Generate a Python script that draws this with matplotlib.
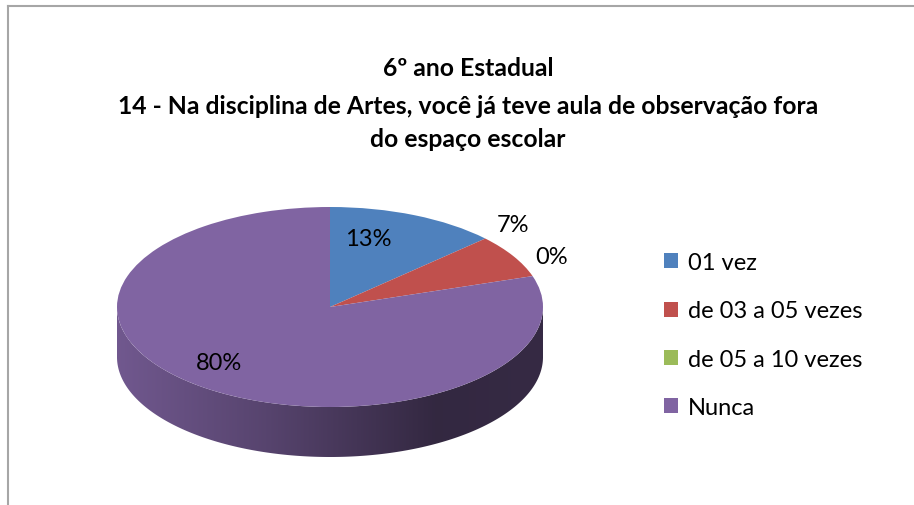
import matplotlib
matplotlib.use('Agg')
import matplotlib.pyplot as plt
import numpy as np
from matplotlib.lines import Line2D
from matplotlib.patches import Polygon
from matplotlib.colors import to_rgb

# data
categories = ['01 vez', 'de 03 a 05 vezes', 'de 05 a 10 vezes', 'Nunca']
percentages = [13, 7, 0, 80]
colors = ['#4F81BD', '#C0504D', '#9BBB59', '#8064A2']
title_lines = ['6º ano Estadual',
               '14 - Na disciplina de Artes, você já teve aula de observação fora',
               'do espaço escolar']

plt.rcParams['font.family'] = ['Lato', 'DejaVu Sans']

W, H = 914, 506
fig = plt.figure(figsize=(W / 100, H / 100), dpi=100)

# chart frame (only top and left edges visible)
fig.add_artist(Line2D([8 / W, 8 / W], [0, 1 - 7 / H], color='#A6A6A6', lw=1.5))
fig.add_artist(Line2D([8 / W, 1], [1 - 7 / H, 1 - 7 / H], color='#A6A6A6', lw=1.5))

# title
for txt, ypx in zip(title_lines, [68, 106, 140]):
    fig.text(468 / W, 1 - ypx / H, txt, ha='center', va='center',
             fontsize=17.8, fontweight='bold', color='black')

# pie axes: unit circle -> ellipse (rx=213px, ry=100px), center at (330, 308)px
cx, cy, rx, ry, depth_px = 330, 308, 213, 100, 50
m = 1.2
depth = depth_px / ry
left = (cx - rx * m) / W
width = 2 * rx * m / W
top_px = cy - ry * m
bot_px = cy + ry * m + depth_px
ax = fig.add_axes([left, 1 - bot_px / H, width, (bot_px - top_px) / H])

wedges, texts, autotexts = ax.pie(percentages, colors=colors, startangle=90,
                                  counterclock=False, radius=1,
                                  autopct='%1.0f%%',
                                  wedgeprops=dict(linewidth=0),
                                  textprops=dict(fontsize=17))
ax.set_aspect('auto')
ax.axis('off')

# side wall: shaded gradient clipped to the front part of each wedge
xs = np.linspace(-1, 1, 400)
shade = np.interp(xs, [-1, -0.3, 0.5, 1], [0.88, 0.68, 0.40, 0.42])
for w in wedges:
    base = np.array(to_rgb(w.get_facecolor()))
    for lo, hi in [(-180, 0), (180, 360)]:
        a0, a1 = max(w.theta1, lo), min(w.theta2, hi)
        if a1 <= a0:
            continue
        angs = np.radians(np.linspace(a0, a1, 300))
        top = np.column_stack([np.cos(angs), np.sin(angs)])
        bottom = top[::-1] - [0, depth]
        wall = Polygon(np.vstack([top, bottom]), closed=True,
                       facecolor='none', edgecolor='none')
        ax.add_patch(wall)
        img = (shade[:, None] * base[None, :])[None, :, :]
        im = ax.imshow(img, extent=(-1, 1, -1 - depth, 0), aspect='auto',
                       interpolation='bilinear', zorder=0)
        im.set_clip_path(wall)
for w in wedges:
    w.set_zorder(2)
ax.set_xlim(-m, m)
ax.set_ylim(-m - depth, m)

# percentage labels
label_pos = [(0.18, 0.68), (0.86, 0.82), (1.04, 0.50), (-0.52, -0.56)]
for t in texts:
    t.set_visible(False)
for t, p in zip(autotexts, label_pos):
    t.set_position(p)
    t.set_ha('center')
    t.set_va('center')
    t.set_zorder(5)

# legend
fig.legend(wedges, categories, loc='center left',
           bbox_to_anchor=(664 / W, 1 - 336 / H), frameon=False,
           fontsize=17, handlelength=0.6, handleheight=0.6,
           handletextpad=0.4, labelspacing=1.15, borderpad=0,
           borderaxespad=0)

fig.savefig('out.png', dpi=100, facecolor='white')
